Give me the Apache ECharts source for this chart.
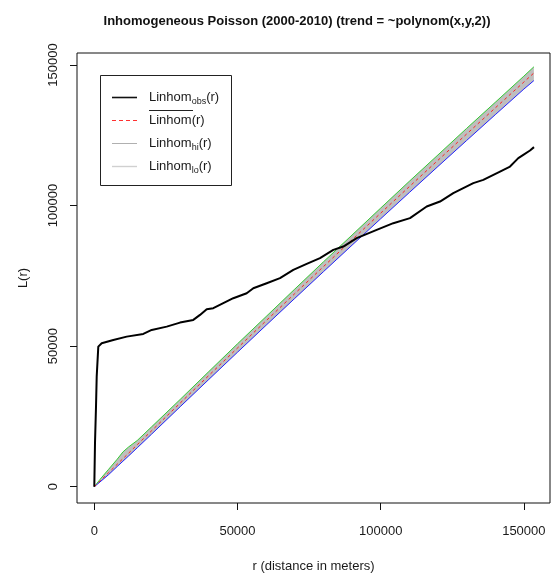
<!DOCTYPE html>
<html>
<head>
<meta charset="utf-8">
<script src="https://cdn.jsdelivr.net/npm/echarts@6/dist/echarts.min.js"></script>
<style>
  html, body { margin: 0; padding: 0; background: #ffffff; }
  #chart { width: 551px; height: 573px; }
</style>
</head>
<body>
<div id="chart"></div>
<script>
// Observed inhomogeneous L-function: distance r (m) and L(r)
const obsR = [0, 244, 594, 838, 1397, 2584, 6635, 11314, 17111, 20044, 25282, 29926,
  34571, 36910, 39250, 41555, 45047, 48539, 53218, 55523, 60202, 64846, 69491, 74170,
  78814, 83459, 86951, 91630, 98614, 104410, 110240, 116070, 120720, 125360, 128850,
  132350, 135840, 141670, 145170, 148060, 149810, 152150, 153540];
const obsL = [0, 15450, 28470, 39150, 49830, 51040, 52210, 53385, 54350, 55770, 56940, 58370,
  59330, 61110, 63140, 63490, 65270, 67050, 68830, 70610, 72390, 74170, 77120, 79260,
  81290, 84240, 85420, 88410, 91360, 93740, 95520, 99650, 101430, 104420, 106200,
  107980, 109150, 112110, 113890, 116880, 118050, 119580, 120790];

// Simulation envelope: distances, theoretical value, upper and lower limits
const envR = [0, 2000, 5000, 8000, 10000, 12000, 15000, 20000, 30000, 40000, 50000, 60000,
  70000, 80000, 90000, 100000, 110000, 120000, 130000, 140000, 150000, 153500];
const theoL = [0, 2000, 4990, 7980, 9970, 11960, 14940, 19890, 29760, 39570, 49330, 59030,
  68680, 78270, 87810, 97300, 106730, 116110, 125440, 134710, 143930, 147160];
const hiL = [0, 2600, 6190, 9780, 12370, 14160, 16440, 21290, 31060, 40970, 50830, 60530,
  70280, 79970, 89510, 99100, 108630, 118010, 127440, 136710, 146030, 149360];
const loL = [0, 1700, 4290, 7180, 9070, 10960, 13840, 18690, 28460, 38170, 47830, 57430,
  66980, 76470, 85910, 95300, 104630, 113910, 123140, 132310, 141430, 144460];

// Axis ticks
const xTicks = [0, 50000, 100000, 150000];
const yTicks = [0, 50000, 100000, 150000];

const FONT = 'Liberation Sans, Arial, sans-serif';
const TXT = '#1a1a1a';

const pairs = (xs, ys) => xs.map((x, i) => [x, ys[i]]);

const chart = echarts.init(document.getElementById('chart'), null, { renderer: 'canvas' });

const legendRows = [
  { y: 97, text: '{m|Linhom}{s|obs}{m|(r)}', line: { stroke: '#111', lineWidth: 1.6 } },
  { y: 120, text: '{m|Linhom(r)}', line: { stroke: '#ff3030', lineWidth: 1, lineDash: [4, 3] }, bar: true },
  { y: 143, text: '{m|Linhom}{s|hi}{m|(r)}', line: { stroke: '#b0b0b0', lineWidth: 1 } },
  { y: 166, text: '{m|Linhom}{s|lo}{m|(r)}', line: { stroke: '#d0d0d0', lineWidth: 1.4 } }
];

const legendGraphics = [{
  type: 'rect',
  shape: { x: 100.5, y: 75.5, width: 131, height: 110 },
  style: { fill: '#ffffff', stroke: '#222', lineWidth: 1 },
  z: 10
}];
legendRows.forEach(row => {
  legendGraphics.push({
    type: 'line',
    shape: { x1: 112, y1: row.y + 0.5, x2: 137, y2: row.y + 0.5 },
    style: row.line,
    z: 11
  });
  legendGraphics.push({
    type: 'text',
    x: 149, y: row.y + 1.5,
    style: {
      text: row.text,
      verticalAlign: 'middle',
      align: 'left',
      rich: {
        m: { fontSize: 13, fontFamily: FONT, fill: TXT, padding: [0, 0, 3, 0] },
        s: { fontSize: 9, fontFamily: FONT, fill: TXT, verticalAlign: 'bottom' }
      }
    },
    z: 11
  });
  if (row.bar) {
    legendGraphics.push({
      type: 'line',
      shape: { x1: 149, y1: 110.5, x2: 193, y2: 110.5 },
      style: { stroke: '#222', lineWidth: 1 },
      z: 11
    });
  }
});

const option = {
  backgroundColor: '#ffffff',
  animation: false,
  grid: {
    left: 77, right: 1, top: 53, bottom: 70,
    outerBoundsMode: 'none',
    containLabel: false,
    show: true, borderColor: '#111', borderWidth: 1, backgroundColor: 'transparent'
  },
  xAxis: {
    type: 'value',
    min: -6041, max: 159130,
    name: 'r (distance in meters)',
    nameLocation: 'middle',
    nameGap: 57,
    nameTextStyle: { fontSize: 13, fontFamily: FONT, color: TXT },
    axisLine: { show: false, onZero: false },
    splitLine: { show: false },
    axisTick: { show: true, length: 7, customValues: xTicks, lineStyle: { color: '#111' } },
    axisLabel: {
      customValues: xTicks, fontSize: 13, fontFamily: FONT, color: TXT, margin: 22,
      formatter: v => String(v)
    }
  },
  yAxis: {
    type: 'value',
    min: -5798, max: 154270,
    name: 'L(r)',
    nameLocation: 'middle',
    nameGap: 47,
    nameRotate: 90,
    nameTextStyle: { fontSize: 13, fontFamily: FONT, color: TXT },
    axisLine: { show: false, onZero: false },
    splitLine: { show: false },
    axisTick: { show: true, length: 7, customValues: yTicks, lineStyle: { color: '#111' } },
    axisLabel: {
      customValues: yTicks, fontSize: 13, fontFamily: FONT, color: TXT, margin: 17, rotate: 90,
      formatter: v => String(v)
    }
  },
  graphic: [{
    type: 'text',
    x: 297, y: 21,
    style: {
      text: 'Inhomogeneous Poisson (2000-2010) (trend = ~polynom(x,y,2))',
      fontSize: 13, fontWeight: 'bold', fontFamily: FONT, fill: '#111',
      align: 'center', verticalAlign: 'middle'
    }
  }].concat(legendGraphics),
  series: [
    {
      // grey envelope band between lower and upper limits
      type: 'custom',
      name: 'band',
      coordinateSystem: 'cartesian2d',
      data: [[0, 0]],
      clip: true,
      silent: true,
      z: 1,
      renderItem: (params, api) => {
        const pts = [];
        for (let i = 0; i < envR.length; i++) pts.push(api.coord([envR[i], hiL[i]]));
        for (let i = envR.length - 1; i >= 0; i--) pts.push(api.coord([envR[i], loL[i]]));
        return { type: 'polygon', shape: { points: pts }, style: { fill: '#bebebe', stroke: null } };
      }
    },
    {
      name: 'hi', type: 'line', data: pairs(envR, hiL), showSymbol: false, z: 2,
      lineStyle: { color: '#33cc33', width: 1 }
    },
    {
      name: 'lo', type: 'line', data: pairs(envR, loL), showSymbol: false, z: 2,
      lineStyle: { color: '#2222ff', width: 1 }
    },
    {
      name: 'theo', type: 'line', data: pairs(envR, theoL), showSymbol: false, z: 3,
      lineStyle: { color: '#ff2020', width: 1, type: [3, 3] }
    },
    {
      name: 'obs', type: 'line', data: pairs(obsR, obsL), showSymbol: false, z: 4,
      lineStyle: { color: '#000000', width: 2 }
    }
  ]
};

chart.setOption(option);
</script>
</body>
</html>
